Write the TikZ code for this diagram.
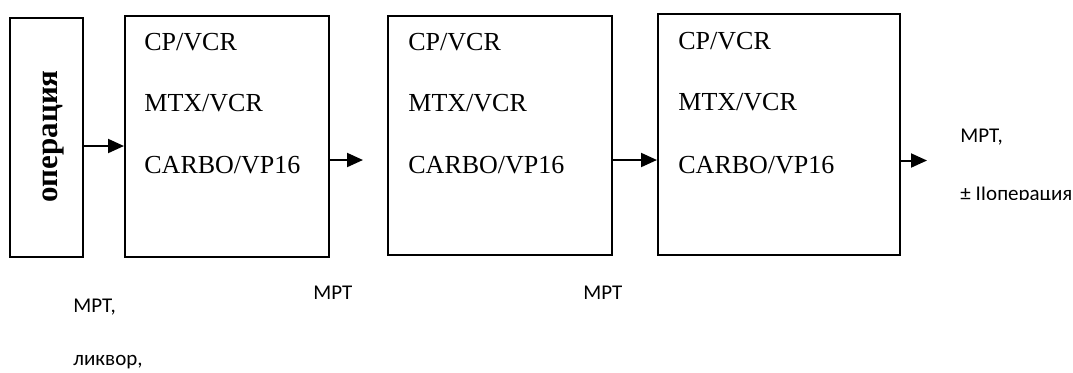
\documentclass[tikz,border=0pt]{standalone}
\usepackage{fontspec}
\setmainfont{Liberation Serif}
\newfontfamily\calibri{Carlito}
\usetikzlibrary{arrows.meta}

\begin{document}
\begin{tikzpicture}[x=0.5pt,y=-0.5pt,>={Triangle[length=8pt,width=7pt]},
  box/.style={draw,line width=1pt,anchor=north west,inner sep=0pt},
  drug/.style={anchor=base west,inner sep=0pt,font=\fontsize{13}{15}\selectfont},
  note/.style={anchor=base west,inner sep=0pt,font=\calibri\fontsize{10.5}{12}\selectfont},
  flow/.style={->,line width=1pt}]
\useasboundingbox (0,0) rectangle (1073,372);
% surgery and the three chemotherapy courses
\node[box,minimum width=36.5pt,minimum height=119.5pt] (surgery) at (9,17) {};
\node[rotate=90,anchor=base,inner sep=0pt,
  font=\fontsize{15.5}{18}\selectfont\bfseries] (surgerytext) at (57,136.5) {операция};
\node[box,minimum width=102pt,minimum height=120.5pt] (course1) at (124,15) {};
\node[box,minimum width=112pt,minimum height=119.5pt] (course2) at (387,15) {};
\node[box,minimum width=121pt,minimum height=120.5pt] (course3) at (657,13) {};
\node[drug] (cpvcr1) at (144,50) {CP/VCR};
\node[drug] (mtxvcr1) at (144,111) {MTX/VCR};
\node[drug] (carbo1) at (144,173) {CARBO/VP16};
\node[drug] (cpvcr2) at (408,50) {CP/VCR};
\node[drug] (mtxvcr2) at (408,111) {MTX/VCR};
\node[drug] (carbo2) at (408,173) {CARBO/VP16};
\node[drug] (cpvcr3) at (678,49) {CP/VCR};
\node[drug] (mtxvcr3) at (678,110) {MTX/VCR};
\node[drug] (carbo3) at (678,173) {CARBO/VP16};
% free arrow ends
\coordinate (gap1) at (363,160);
\coordinate (after3) at (927,160.5);
\draw[flow] ([yshift=-4.25pt]surgery.east) -- ([yshift=-4.25pt]surgery.east -| course1.west);
\draw[flow] (gap1 -| course1.east) -- (gap1);
\draw[flow] (gap1 -| course2.east) -- (gap1 -| course3.west);
\draw[flow] (after3 -| course3.east) -- (after3);
% examinations
\node[note] (mri1) at (73,312) {МРТ,};
\node[note] (liquor) at (73,365) {ликвор,};
\node[note] (mri2) at (313,299) {МРТ};
\node[note] (mri3) at (583,299) {МРТ};
\node[note] (mri4) at (960,142) {МРТ,};
\begin{scope}
  \clip (940,170) rectangle (1073,199);
  \node[note] (second) at (960,200) {± IIоперация};
\end{scope}
\end{tikzpicture}
\end{document}
